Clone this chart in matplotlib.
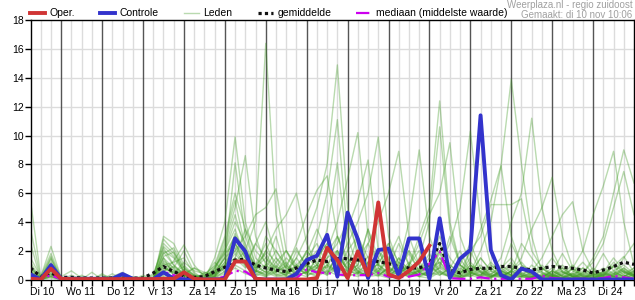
import numpy as np
import matplotlib.pyplot as plt
import matplotlib.transforms as mtransforms

plt.rcParams['font.family'] = ['Liberation Sans', 'DejaVu Sans']

# dagen (dag 0 = Di 10 00:00), data elke 6 uur vanaf Di 10 06:00
dagen = ['Di 10', 'Wo 11', 'Do 12', 'Vr 13', 'Za 14', 'Zo 15', 'Ma 16', 'Di 17',
         'Wo 18', 'Do 19', 'Vr 20', 'Za 21', 'Zo 22', 'Ma 23', 'Di 24']
t_start = 0.25
stap = 0.25

controle = [0.35, 0.0, 1.0, 0.05, 0.05, 0.05, 0.05, 0.05, 0.05, 0.38,
            0.05, 0.0, 0.0, 0.5, 0.05, 0.0, 0.0, 0.0, 0.0, 0.05,
            2.85, 1.95, 0.0, 0.0, 0.0, 0.0, 0.4, 1.35, 1.65, 3.1,
            0.2, 4.65, 2.8, 0.1, 2.05, 2.15, 0.25, 2.85, 2.85, 0.05,
            4.25, 0.1, 1.45, 2.05, 11.4, 2.05, 0.3, 0.0, 0.75, 0.55,
            0.0, 0.0, 0.0, 0.0, 0.0, 0.0, 0.0, 0.0, 0.0, 0.0]

oper = [0.05, 0.0, 0.75, 0.05, 0.03, 0.03, 0.03, 0.03, 0.03, 0.03,
        0.03, 0.03, 0.03, 0.05, 0.05, 0.5, 0.05, 0.0, 0.0, 0.0,
        1.25, 1.25, 0.05, 0.0, 0.0, 0.0, 0.0, 0.0, 0.1, 2.2,
        1.35, 0.1, 1.95, 0.3, 5.35, 0.35, 0.1, 0.6, 1.25, 2.35]

gemiddelde = [0.8, 0.2, 0.45, 0.15, 0.15, 0.1, 0.1, 0.1, 0.1, 0.1,
              0.1, 0.1, 0.45, 0.9, 0.55, 0.25, 0.15, 0.2, 0.55, 0.85,
              1.35, 1.4, 1.0, 0.8, 0.65, 0.55, 0.8, 1.1, 1.35, 1.25,
              1.45, 1.45, 1.35, 1.35, 1.25, 1.1, 0.9, 0.8, 0.8, 1.05,
              2.5, 0.65, 0.45, 0.7, 0.78, 0.78, 0.9, 0.9, 0.78, 0.66,
              0.78, 0.9, 0.85, 0.78, 0.66, 0.45, 0.66, 0.9, 1.2, 1.05]

mediaan = [0.3, 0.05, 0.3, 0.02, 0.02, 0.02, 0.02, 0.02, 0.02, 0.02,
           0.02, 0.02, 0.05, 0.55, 0.3, 0.05, 0.02, 0.02, 0.05, 0.2,
           0.6, 0.55, 0.1, 0.02, 0.02, 0.02, 0.1, 0.7, 0.5, 0.45,
           0.35, 0.3, 0.3, 0.3, 0.45, 0.2, 0.15, 0.2, 0.35, 1.1,
           1.95, 0.1, 0.05, 0.05, 0.15, 0.05, 0.05, 0.05, 0.05, 0.05,
           0.25, 0.1, 0.05, 0.05, 0.05, 0.05, 0.1, 0.25, 0.15, 0.05]

leden = [
    [5.5, 0.2, 2.3, 0.1, 0, 0, 0, 0.1, 0, 0, 0, 0, 0.2, 2.5, 1.8, 0.6, 0.2, 0.1, 0.5, 1.5,
     3.0, 2.0, 4.0, 16.4, 4.5, 1.0, 0.5, 2.0, 1.0, 0.3, 2.0, 0.5, 1.0, 3.5, 0.8, 0.2, 1.5, 0.6, 0.3, 0.5,
     1.2, 0.3, 0.2, 2.0, 0.5, 0.1, 0.8, 1.5, 0.4, 0.2, 0, 0.3, 1.0, 0.2, 0, 0.5, 1.8, 0.6, 0.2, 0.8],
    [2.5, 0, 1.5, 0, 0.3, 0, 0, 0, 0, 0.2, 0, 0, 0, 3.0, 2.5, 1.0, 0.3, 0, 0.2, 0.8,
     2.5, 1.5, 0.5, 2.0, 1.2, 0.4, 1.5, 3.0, 5.0, 8.0, 14.9, 5.0, 1.5, 0.5, 2.0, 0.8, 0.3, 1.0, 0.2, 0.6,
     2.0, 0.5, 0.1, 0.4, 1.5, 0.6, 0.2, 0.5, 0.8, 0.3, 0.1, 0.6, 0.2, 0.4, 0.1, 0, 0.3, 0.9, 1.6, 0.5],
    [1.0, 0, 0.8, 0, 0, 0, 0, 0, 0.2, 0.5, 0.1, 0, 0, 1.5, 0.8, 2.0, 0.5, 0, 0.5, 2.0,
     4.0, 2.5, 0.8, 1.0, 3.0, 0.6, 0.2, 1.0, 0.5, 1.8, 3.0, 1.2, 0.4, 2.5, 1.0, 0.3, 0.8, 2.0, 0.5, 0.2,
     0.8, 3.0, 1.0, 0.5, 2.0, 4.0, 7.9, 13.9, 8.0, 3.0, 0.5, 0.2, 0.8, 0.3, 0.1, 0.4, 0.2, 1.0, 0.5, 0.2],
    [0.8, 0.1, 1.2, 0, 0, 0.2, 0, 0, 0, 0, 0, 0.3, 0, 2.0, 1.5, 0.5, 0, 0.2, 1.0, 3.0,
     6.0, 3.5, 1.0, 2.5, 0.8, 0.2, 0.4, 1.5, 2.5, 1.0, 0.5, 2.0, 3.0, 1.0, 0.3, 0.8, 2.5, 1.0, 3.0, 5.0,
     12.4, 4.0, 1.0, 0.4, 0.8, 0.2, 0.5, 1.2, 0.3, 0.1, 0.8, 0.2, 0.1, 0.5, 1.2, 0.4, 0.1, 0.3, 0.6, 0.2],
    [0.5, 0, 0.6, 0, 0, 0, 0.1, 0, 0, 0, 0.2, 0, 0, 1.2, 0.6, 0.3, 0.8, 0.3, 0.2, 1.0,
     2.0, 1.0, 2.5, 4.0, 1.5, 0.5, 1.0, 0.6, 3.0, 6.0, 11.1, 3.0, 0.8, 0.4, 1.5, 2.5, 0.6, 0.2, 0.5, 1.0,
     0.3, 0.8, 2.0, 0.5, 0.2, 0.6, 1.5, 4.0, 6.0, 11.2, 5.0, 2.0, 0.5, 0.2, 0.8, 0.3, 0.5, 0.2, 0.1, 0.4],
    [1.5, 0.2, 1.8, 0.1, 0, 0, 0, 0, 0, 0, 0, 0, 0.4, 2.2, 1.0, 0.4, 0.2, 0, 1.5, 4.0,
     9.9, 4.0, 1.5, 0.8, 2.0, 1.0, 0.3, 0.5, 1.0, 2.0, 4.0, 7.0, 10.2, 3.0, 1.0, 0.5, 1.2, 0.4, 0.8, 0.3,
     1.5, 0.5, 0.2, 1.0, 0.4, 0.1, 0.6, 0.3, 0.2, 1.0, 0.4, 0.1, 0.3, 0.8, 0.2, 0.1, 0.5, 1.5, 0.6, 0.3],
    [0.3, 0, 1.0, 0.2, 0.6, 0.1, 0, 0, 0, 0, 0, 0, 0, 1.8, 2.2, 0.8, 0.1, 0.3, 0.6, 2.5,
     5.0, 8.6, 3.0, 1.0, 0.5, 1.5, 0.8, 2.0, 1.2, 0.5, 1.0, 2.5, 4.0, 6.0, 9.9, 3.0, 1.0, 0.3, 0.6, 1.5,
     0.5, 0.2, 1.0, 2.5, 0.8, 0.3, 0.2, 0.6, 1.2, 0.4, 0.2, 0.6, 0.2, 0.1, 0.3, 0.8, 0.3, 0.1, 0.2, 0.6],
    [0.6, 0, 0.4, 0, 0, 0, 0, 0.3, 0.1, 0, 0, 0, 0, 1.0, 1.2, 1.5, 0.4, 0, 0.3, 1.5,
     8.1, 3.0, 1.0, 1.8, 0.6, 0.3, 2.0, 1.0, 0.8, 3.5, 8.1, 2.0, 0.5, 1.2, 0.4, 0.2, 0.8, 2.0, 1.0, 0.5,
     1.0, 2.5, 5.0, 10.3, 4.0, 1.0, 0.4, 0.2, 0.8, 0.3, 0.1, 0.4, 0.8, 0.2, 0.5, 0.2, 0.1, 0.3, 0.6, 0.2],
    [0.4, 0.1, 0.8, 0, 0, 0, 0, 0, 0, 0.3, 0, 0, 0, 0.8, 0.5, 0.3, 0.2, 0.1, 0.8, 2.0,
     3.5, 1.5, 0.6, 0.3, 1.2, 2.0, 0.8, 0.4, 1.5, 2.5, 1.0, 3.5, 5.5, 8.3, 2.0, 0.5, 1.0, 4.0, 9.0, 3.0,
     1.0, 0.4, 0.2, 0.6, 0.3, 1.0, 0.5, 0.2, 0.4, 0.1, 0.3, 0.8, 0.2, 0.1, 0.4, 1.5, 3.0, 6.0, 9.0, 6.7],
    [0.2, 0, 0.5, 0, 0.1, 0, 0, 0, 0, 0, 0, 0, 0, 1.5, 0.3, 0.2, 0, 0, 0.4, 1.2,
     2.0, 3.0, 4.5, 5.0, 6.3, 2.0, 0.6, 1.0, 0.4, 1.5, 2.0, 0.8, 1.5, 2.5, 4.0, 6.0, 8.9, 3.0, 1.0, 0.5,
     0.3, 0.8, 0.2, 0.5, 1.0, 0.4, 0.2, 0.6, 0.3, 0.1, 0.2, 0.4, 0.1, 0.8, 2.0, 4.5, 6.5, 8.9, 4.0, 1.0],
    [0.9, 0, 1.4, 0, 0, 0, 0, 0, 0, 0, 0, 0.2, 0, 1.6, 1.9, 0.8, 0.3, 0.2, 1.2, 0.5,
     2.5, 1.2, 0.8, 2.0, 3.5, 4.5, 6.0, 2.5, 1.0, 0.8, 3.0, 1.5, 0.6, 0.3, 1.2, 2.0, 0.8, 0.4, 1.5, 4.0,
     10.6, 3.5, 1.0, 0.5, 0.3, 0.8, 0.2, 0.6, 1.5, 3.5, 5.0, 7.1, 3.0, 0.8, 0.3, 0.1, 0.4, 0.2, 0.8, 0.3],
    [0.4, 0, 0.3, 0.1, 0, 0, 0, 0, 0, 0, 0.1, 0, 0, 0.9, 0.4, 1.2, 0.6, 0.4, 0.2, 1.8,
     3.0, 2.0, 1.0, 0.5, 1.5, 0.8, 2.5, 4.5, 6.2, 7.2, 3.0, 1.0, 0.4, 0.8, 2.0, 1.2, 0.5, 1.0, 2.5, 4.5,
     6.0, 9.5, 3.0, 1.0, 0.5, 0.2, 0.6, 0.3, 0.2, 0.5, 1.0, 0.3, 0.1, 0.4, 0.2, 0.6, 0.3, 1.2, 0.5, 0.2],
    [0.7, 0.2, 1.0, 0, 0, 0, 0, 0, 0.4, 0, 0, 0, 0, 2.8, 2.0, 0.5, 0.2, 0, 0.6, 1.0,
     1.5, 3.5, 2.0, 1.2, 0.6, 0.3, 1.0, 1.8, 3.5, 2.0, 1.2, 0.5, 2.0, 1.0, 0.4, 1.5, 3.0, 1.0, 0.5, 0.8,
     2.0, 1.0, 0.4, 1.5, 3.5, 5.5, 7.9, 3.0, 1.0, 0.6, 1.5, 3.0, 4.5, 5.4, 2.0, 0.6, 0.2, 0.4, 0.8, 0.3],
    [0.3, 0, 0.2, 0, 0, 0, 0, 0, 0, 0, 0, 0, 0, 0.6, 0.9, 0.4, 0, 0.5, 0.3, 0.8,
     1.5, 0.8, 2.5, 1.5, 0.8, 2.0, 1.0, 0.5, 0.8, 1.5, 2.5, 4.0, 2.0, 0.8, 1.0, 2.5, 1.2, 0.4, 0.6, 1.0,
     3.0, 1.5, 0.6, 2.0, 3.0, 5.2, 5.2, 5.2, 5.6, 2.0, 0.8, 0.3, 0.6, 0.2, 0.1, 0.3, 0.8, 0.4, 0.2, 0.5],
    [0.2, 0, 0.7, 0, 0, 0, 0.5, 0, 0, 0, 0, 0, 0.3, 1.1, 0.7, 0.2, 0.1, 0.4, 0.9, 1.8,
     2.5, 1.0, 0.5, 3.0, 2.0, 0.8, 0.4, 1.2, 2.0, 0.6, 1.5, 0.8, 3.0, 1.5, 0.5, 0.2, 0.8, 1.8, 0.6, 0.3,
     2.5, 1.0, 0.5, 0.8, 0.3, 1.2, 0.5, 2.5, 1.0, 0.4, 0.2, 0.6, 0.3, 0.1, 0.5, 1.2, 2.5, 5.0, 7.5, 4.5],
    [0.1, 0, 0.3, 0, 0, 0, 0, 0, 0, 0, 0, 0, 0, 0.5, 1.3, 2.4, 1.0, 0.2, 0.1, 0.6,
     1.2, 2.0, 0.8, 1.5, 0.5, 1.0, 2.2, 0.8, 0.4, 1.0, 2.0, 0.6, 1.0, 3.5, 1.5, 0.6, 0.3, 1.0, 2.0, 0.8,
     1.2, 0.5, 0.2, 1.0, 0.6, 0.3, 1.0, 0.5, 2.5, 1.5, 0.5, 0.2, 0.4, 1.0, 0.3, 0.2, 0.6, 0.3, 1.5, 2.5],
    [0, 0, 0.2, 0, 0, 0, 0, 0, 0, 0, 0, 0, 0, 0.4, 0.2, 0.1, 0, 0, 0.2, 0.5,
     1.0, 0.6, 0.3, 0.8, 0.4, 0.2, 0.5, 1.0, 0.6, 0.3, 0.8, 0.4, 0.2, 0.6, 0.3, 0.8, 0.4, 0.2, 0.5, 0.2,
     0.6, 0.3, 0.1, 0.4, 0.2, 0.1, 0.3, 0.2, 0.5, 0.2, 0.1, 0.3, 0.1, 0.2, 0.1, 0.3, 0.5, 0.2, 0.1, 0.3],
    [1.2, 0, 0.9, 0, 0, 0, 0, 0.4, 0, 0, 0, 0, 0, 1.9, 1.0, 0.3, 0, 0, 0.5, 1.5,
     2.2, 1.2, 0.6, 0.4, 1.0, 0.3, 0.8, 0.4, 1.5, 2.5, 1.0, 0.6, 0.4, 1.2, 0.5, 2.0, 0.8, 0.3, 0.6, 1.0,
     0.4, 0.2, 0.8, 0.3, 1.5, 0.6, 0.3, 0.8, 0.3, 0.2, 0.6, 1.5, 0.5, 0.2, 0.4, 0.1, 0.3, 0.6, 1.0, 0.4],
    [0.6, 0, 0.1, 0, 0, 0.3, 0, 0, 0, 0, 0, 0, 0, 0.7, 0.5, 0.9, 0.2, 0.1, 0.7, 2.2,
     4.5, 2.0, 0.7, 0.3, 0.6, 1.2, 0.4, 0.2, 0.8, 1.2, 0.5, 1.5, 0.6, 0.2, 0.8, 0.4, 1.5, 0.6, 0.2, 0.4,
     1.5, 0.6, 0.3, 0.2, 0.6, 0.2, 0.4, 1.0, 0.4, 0.6, 0.2, 0.5, 1.8, 0.6, 0.2, 0.1, 0.4, 0.2, 0.5, 0.3],
    [0.2, 0, 0.6, 0, 0, 0, 0, 0, 0, 0.1, 0, 0, 0, 1.3, 0.8, 0.3, 0.1, 0, 0.4, 0.9,
     1.8, 0.9, 0.4, 0.2, 0.9, 0.5, 0.2, 0.6, 1.0, 0.4, 1.8, 0.7, 0.3, 0.5, 1.1, 0.4, 0.2, 0.6, 1.2, 0.5,
     0.8, 0.3, 0.1, 0.5, 0.2, 0.4, 0.8, 0.3, 0.1, 0.2, 0.3, 0.1, 0.5, 0.3, 0.8, 0.3, 0.1, 0.2, 0.4, 0.8],
    [3.5, 0.1, 1.6, 0, 0, 0, 0, 0, 0, 0, 0, 0, 0, 2.3, 1.6, 0.6, 0.1, 0, 0.2, 1.0,
     2.8, 1.5, 0.5, 1.0, 0.3, 0.6, 1.5, 0.5, 0.3, 0.9, 0.4, 1.2, 0.5, 0.2, 0.6, 1.4, 0.5, 0.8, 0.3, 0.6,
     1.8, 0.7, 0.4, 1.2, 0.5, 0.2, 0.6, 0.3, 0.8, 0.2, 0.1, 0.2, 0.6, 0.2, 0.1, 0.5, 0.2, 0.4, 0.7, 0.3],
    [0.1, 0, 0.4, 0, 0, 0, 0, 0, 0.2, 0, 0, 0, 0, 0.3, 0.6, 0.4, 0.8, 0.5, 0.3, 1.2,
     3.2, 1.8, 0.6, 0.2, 0.5, 0.9, 0.3, 1.6, 0.8, 0.4, 1.0, 0.3, 0.8, 1.6, 0.6, 0.3, 0.5, 0.2, 0.7, 1.8,
     0.6, 0.2, 1.4, 0.5, 0.2, 0.8, 0.3, 0.5, 0.2, 0.4, 0.8, 0.3, 0.1, 0.4, 0.6, 0.2, 0.4, 0.9, 0.3, 0.1],
    [0.5, 0, 1.1, 0, 0, 0, 0, 0, 0, 0, 0, 0, 0, 1.0, 0.3, 0.7, 0.3, 0.1, 0.8, 2.8,
     5.5, 2.2, 0.9, 0.5, 0.2, 0.4, 0.9, 0.3, 0.5, 1.0, 0.6, 0.3, 1.4, 0.6, 0.2, 0.9, 0.4, 1.2, 0.5, 0.2,
     0.9, 0.4, 0.6, 0.2, 0.8, 0.3, 0.1, 0.6, 0.2, 0.1, 0.4, 0.2, 0.3, 0.7, 0.2, 0.1, 0.3, 0.5, 0.2, 0.6],
    [0, 0, 0.2, 0, 0, 0, 0, 0, 0, 0, 0, 0, 0, 0.2, 0.1, 0.3, 0.1, 0, 0.1, 0.4,
     0.8, 0.4, 0.2, 0.6, 0.3, 0.1, 0.3, 0.5, 0.2, 0.6, 0.3, 0.2, 0.5, 0.2, 0.3, 0.1, 0.2, 0.4, 0.2, 0.1,
     0.5, 0.2, 0.1, 0.3, 0.1, 0.2, 0.4, 0.1, 0.2, 0.1, 0, 0.2, 0.1, 0.3, 0.1, 0, 0.2, 0.1, 0.3, 0.1],
]

t = t_start + stap * np.arange(len(controle))
t_oper = t_start + stap * np.arange(len(oper))

fig = plt.figure(figsize=(6.35, 3.0), dpi=100)
ax = fig.add_axes([30.5 / 635, 20.5 / 300, 603.5 / 635, 259.2 / 300])

# raster
for x in np.arange(0.5, 15, 0.25):
    if abs(x - round(x)) > 1e-6:
        ax.axvline(x, color='#dcdcdc', lw=1, zorder=0)
for d in range(1, 15):
    ax.axvline(d, color='#555555', lw=1, zorder=0.5)
for y in range(2, 18, 2):
    ax.axhline(y, color='#dcdcdc', lw=1, zorder=0)

# ensemble leden
for i, lid in enumerate(leden):
    ax.plot(t, lid, color='#3f9a22', alpha=0.36, lw=1,
            label='Leden' if i == 0 else None, zorder=1)

ax.plot(t, gemiddelde, color='#111111', lw=2.3, linestyle=(0, (1, 1)),
        label='gemiddelde', zorder=3)
ax.plot(t, mediaan, color='#cc00ee', lw=1.6, linestyle=(0, (6, 2, 1, 2)),
        label='mediaan (middelste waarde)', zorder=3)
ax.plot(t, controle, color='#3333cc', lw=2.8, label='Controle', zorder=4)
ax.plot(t_oper, oper, color='#d03535', lw=2.8, label='Oper.', zorder=5)

ax.set_xlim(0.25, 15)
ax.set_ylim(0, 18)
ax.set_yticks(range(0, 19, 2))
ax.set_xticks(np.arange(0.25, 15.01, 0.25))
ax.set_xticklabels([])
ax.tick_params(axis='both', length=4, width=1, color='black', labelsize=7.5, pad=1)

for s in ax.spines.values():
    s.set_color('black')
    s.set_linewidth(1)

trans = mtransforms.blended_transform_factory(ax.transData, ax.transAxes)
for i, d in enumerate(dagen):
    x = 0.25 if i == 0 else i + 0.12
    ax.text(x, -0.028, d, transform=trans, ha='left', va='top', fontsize=7.5)

h, l = ax.get_legend_handles_labels()
volgorde = ['Oper.', 'Controle', 'Leden', 'gemiddelde', 'mediaan (middelste waarde)']
handles = [h[l.index(n)] for n in volgorde]
ax.legend(handles, volgorde, ncol=5, loc='lower left', bbox_to_anchor=(-0.005, 1.0),
          frameon=False, fontsize=7.5, handlelength=1.5, handletextpad=0.4,
          columnspacing=2.4, borderaxespad=0.1, borderpad=0.1)

fig.text(0.996, 1 - 5 / 300, 'Weerplaza.nl - regio zuidoost', ha='right', va='center',
         color='#a0a0a0', fontsize=7)
fig.text(0.996, 1 - 15.5 / 300, 'Gemaakt: di 10 nov 10:06', ha='right', va='center',
         color='#a0a0a0', fontsize=7)

fig.savefig('out.png', dpi=100)
